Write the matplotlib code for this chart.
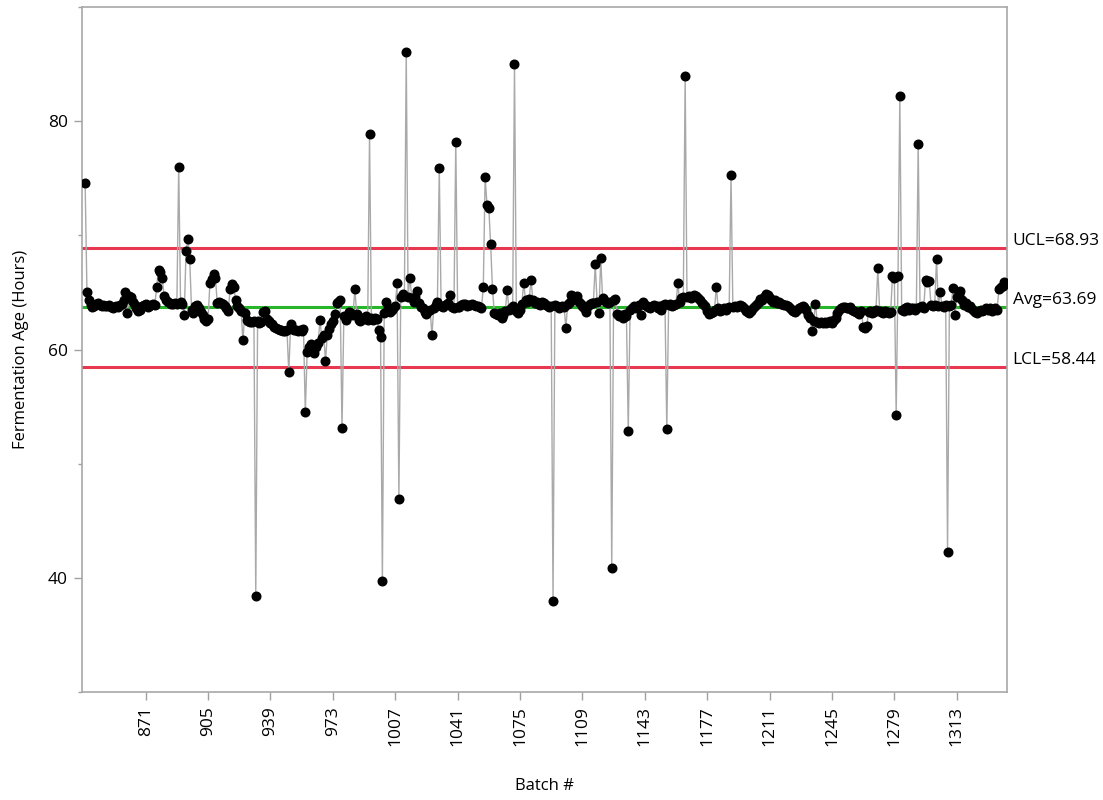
import numpy as np
import matplotlib
matplotlib.use("Agg")
import matplotlib.pyplot as plt
from matplotlib.ticker import MultipleLocator

plt.rcParams['font.family'] = ['Open Sans', 'DejaVu Sans']

# Fermentation age per batch, batches 838..1339
first_batch = 838
age = [
    74.6, 65.0,
    64.3, 63.9, 63.7, 63.8, 64.0, 64.1, 63.9, 63.8, 63.9, 63.8,
    63.8, 63.9, 63.7, 63.6, 63.7, 63.8, 63.7, 63.9, 64.0, 64.3,
    65.0, 63.2, 64.7, 64.6, 64.2, 63.9, 63.6, 63.4, 63.5, 63.8,
    63.9, 64.0, 63.7, 63.8, 63.9, 64.0, 63.9, 65.5, 67.0, 66.8,
    66.3, 64.7, 64.3, 64.2, 64.1, 64.0, 64.0, 64.1, 64.0, 76.0,
    64.2, 64.0, 63.0, 68.6, 69.7, 67.9, 63.5, 63.2, 63.8, 63.9,
    63.6, 63.3, 63.0, 62.7, 62.5, 62.7, 65.8, 66.2, 66.6, 66.3,
    64.1, 64.2, 64.1, 64.0, 63.8, 63.6, 63.4, 65.3, 65.7, 65.5,
    64.3, 63.8, 63.6, 63.4, 60.8, 63.2, 62.6, 62.5, 62.4, 62.4,
    62.5, 38.4, 62.5, 62.3, 62.4, 63.3, 63.4, 62.7, 62.5, 62.3,
    62.2, 62.0, 61.9, 61.8, 61.7, 61.7, 61.6, 61.6, 61.7, 58.0,
    62.2, 61.9, 61.7, 61.7, 61.6, 61.7, 61.6, 61.8, 54.5, 59.8,
    60.2, 60.5, 60.0, 59.7, 60.2, 60.6, 62.6, 61.0, 61.3, 59.0,
    61.3, 61.8, 62.2, 62.5, 63.1, 64.1, 64.2, 64.3, 53.1, 62.9,
    62.6, 62.9, 63.3, 63.2, 63.0, 65.3, 63.1, 62.6, 62.5, 62.8,
    62.7, 62.9, 62.6, 78.9, 62.8, 62.6, 62.8, 62.7, 61.7, 61.1,
    39.7, 63.2, 64.2, 63.6, 63.3, 63.5, 63.6, 63.8, 65.8, 46.9,
    64.6, 64.9, 64.7, 86.1, 64.6, 66.3, 64.5, 64.2, 64.6, 65.1,
    64.1, 63.7, 63.6, 63.3, 63.1, 63.4, 63.5, 61.3, 63.6, 63.9,
    64.2, 75.9, 63.8, 63.7, 63.9, 64.0, 64.1, 64.8, 63.7, 63.6,
    78.2, 63.7, 63.7, 63.9, 64.0, 64.0, 63.8, 63.9, 63.9, 64.0,
    63.9, 63.8, 63.8, 63.7, 63.6, 65.5, 75.1, 72.7, 72.4, 69.2,
    65.3, 63.2, 63.1, 63.0, 63.2, 62.8, 63.0, 63.4, 65.2, 63.5,
    63.6, 63.8, 85.0, 63.4, 63.2, 63.5, 64.0, 65.8, 64.3, 64.2,
    64.4, 66.1, 64.3, 64.1, 64.2, 64.0, 63.9, 64.2, 64.1, 63.9,
    63.8, 63.7, 63.8, 38.0, 63.9, 63.8, 63.6, 63.7, 63.8, 63.7,
    61.9, 64.0, 64.2, 64.8, 64.7, 64.6, 64.7, 64.2, 64.0, 63.8,
    63.6, 63.3, 63.8, 64.0, 64.1, 64.1, 67.5, 64.2, 63.2, 68.0,
    64.5, 64.3, 64.2, 64.1, 64.2, 40.9, 64.3, 64.4, 63.1, 62.9,
    63.0, 62.8, 63.1, 62.9, 52.9, 63.5, 63.6, 63.8, 63.6, 63.7,
    63.9, 63.0, 64.2, 63.9, 63.8, 63.7, 63.6, 63.8, 63.9, 63.8,
    63.6, 63.8, 63.5, 63.9, 64.0, 53.0, 63.9, 64.0, 63.8, 63.9,
    64.0, 65.8, 64.2, 64.5, 64.6, 84.0, 64.6, 64.7, 64.5, 64.6,
    64.8, 64.7, 64.5, 64.3, 64.1, 64.0, 63.8, 63.4, 63.1, 63.2,
    63.3, 63.5, 65.5, 63.6, 63.4, 63.5, 63.6, 63.5, 63.6, 63.7,
    75.3, 63.7, 63.8, 63.7, 63.8, 63.9, 63.8, 63.6, 63.4, 63.3,
    63.2, 63.4, 63.6, 63.8, 64.0, 64.2, 64.4, 64.3, 64.6, 64.9,
    64.8, 64.5, 64.3, 64.2, 64.3, 64.1, 64.2, 64.0, 64.0, 63.9,
    63.9, 63.8, 63.6, 63.5, 63.4, 63.3, 63.5, 63.6, 63.7, 63.8,
    63.7, 63.5, 63.0, 62.8, 61.6, 62.5, 64.0, 62.4, 62.3, 62.4,
    62.3, 62.4, 62.3, 62.4, 62.5, 62.3, 62.6, 62.8, 63.2, 63.5,
    63.6, 63.7, 63.7, 63.6, 63.6, 63.7, 63.5, 63.4, 63.3, 63.2,
    63.1, 63.4, 62.0, 61.9, 62.1, 63.3, 63.4, 63.2, 63.3, 63.5,
    67.1, 63.4, 63.3, 63.2, 63.4, 63.3, 63.2, 63.3, 66.4, 66.3,
    54.3, 66.4, 82.2, 63.5, 63.4, 63.6, 63.7, 63.5, 63.6, 63.6,
    63.5, 63.6, 78.0, 63.7, 63.8, 63.6, 66.1, 65.9, 66.0, 63.9,
    63.8, 63.9, 67.9, 63.8, 65.0, 63.8, 63.7, 63.9, 42.3, 63.8,
    63.9, 65.4, 63.0, 64.6, 64.9, 65.1, 64.3, 63.9, 64.1, 63.7,
    63.8, 63.6, 63.5, 63.3, 63.2, 63.4, 63.5, 63.4, 63.5, 63.6,
    63.5, 63.6, 63.4, 63.5, 63.6, 63.5, 65.3, 65.5, 65.6, 65.9,
]
batch = np.arange(first_batch, first_batch + len(age))

ucl, avg, lcl = 68.93, 63.69, 58.44
x_ticks = list(range(871, 1314, 34))

fig = plt.figure(figsize=(11.03, 8.0), dpi=100)
ax = fig.add_axes([82 / 1103, 1 - 692 / 800, 925 / 1103, 685 / 800])

ax.axhline(ucl, color='#e8384f', lw=2.2, zorder=1)
ax.axhline(lcl, color='#e8384f', lw=2.2, zorder=1)
ax.axhline(avg, color='#27b52a', lw=2.2, zorder=1)

ax.plot(batch, age, color='#a9a9a9', lw=1.0, zorder=2)
ax.plot(batch, age, 'o', color='black', ms=6.2, zorder=3)

for val, lab in [(ucl, 'UCL'), (avg, 'Avg'), (lcl, 'LCL')]:
    ax.annotate(f'{lab}={val:.2f}', xy=(1, val), xycoords=('axes fraction', 'data'),
                xytext=(4, 5), textcoords='offset points', va='center', ha='left',
                fontsize=12.5, color='black')

ax.set_xlim(836.3, 1340.4)
ax.set_ylim(30, 90)
ax.set_xticks(x_ticks)
ax.set_xticklabels([str(t) for t in x_ticks], rotation=90, fontsize=12.5)
ax.set_yticks([40, 60, 80])
ax.yaxis.set_minor_locator(MultipleLocator(10))
ax.tick_params(axis='y', labelsize=12.5)
ax.tick_params(which='major', length=6, width=1, color='#a0a0a0', pad=4)
ax.tick_params(which='minor', length=3, width=1, color='#a0a0a0')

for sp in ax.spines.values():
    sp.set_color('#a8a8a8')
    sp.set_linewidth(1.2)

ax.set_xlabel('Batch #', fontsize=12, labelpad=23)
ax.set_ylabel('Fermentation Age (Hours)', fontsize=12, labelpad=14)

fig.savefig('out.png', dpi=100)
